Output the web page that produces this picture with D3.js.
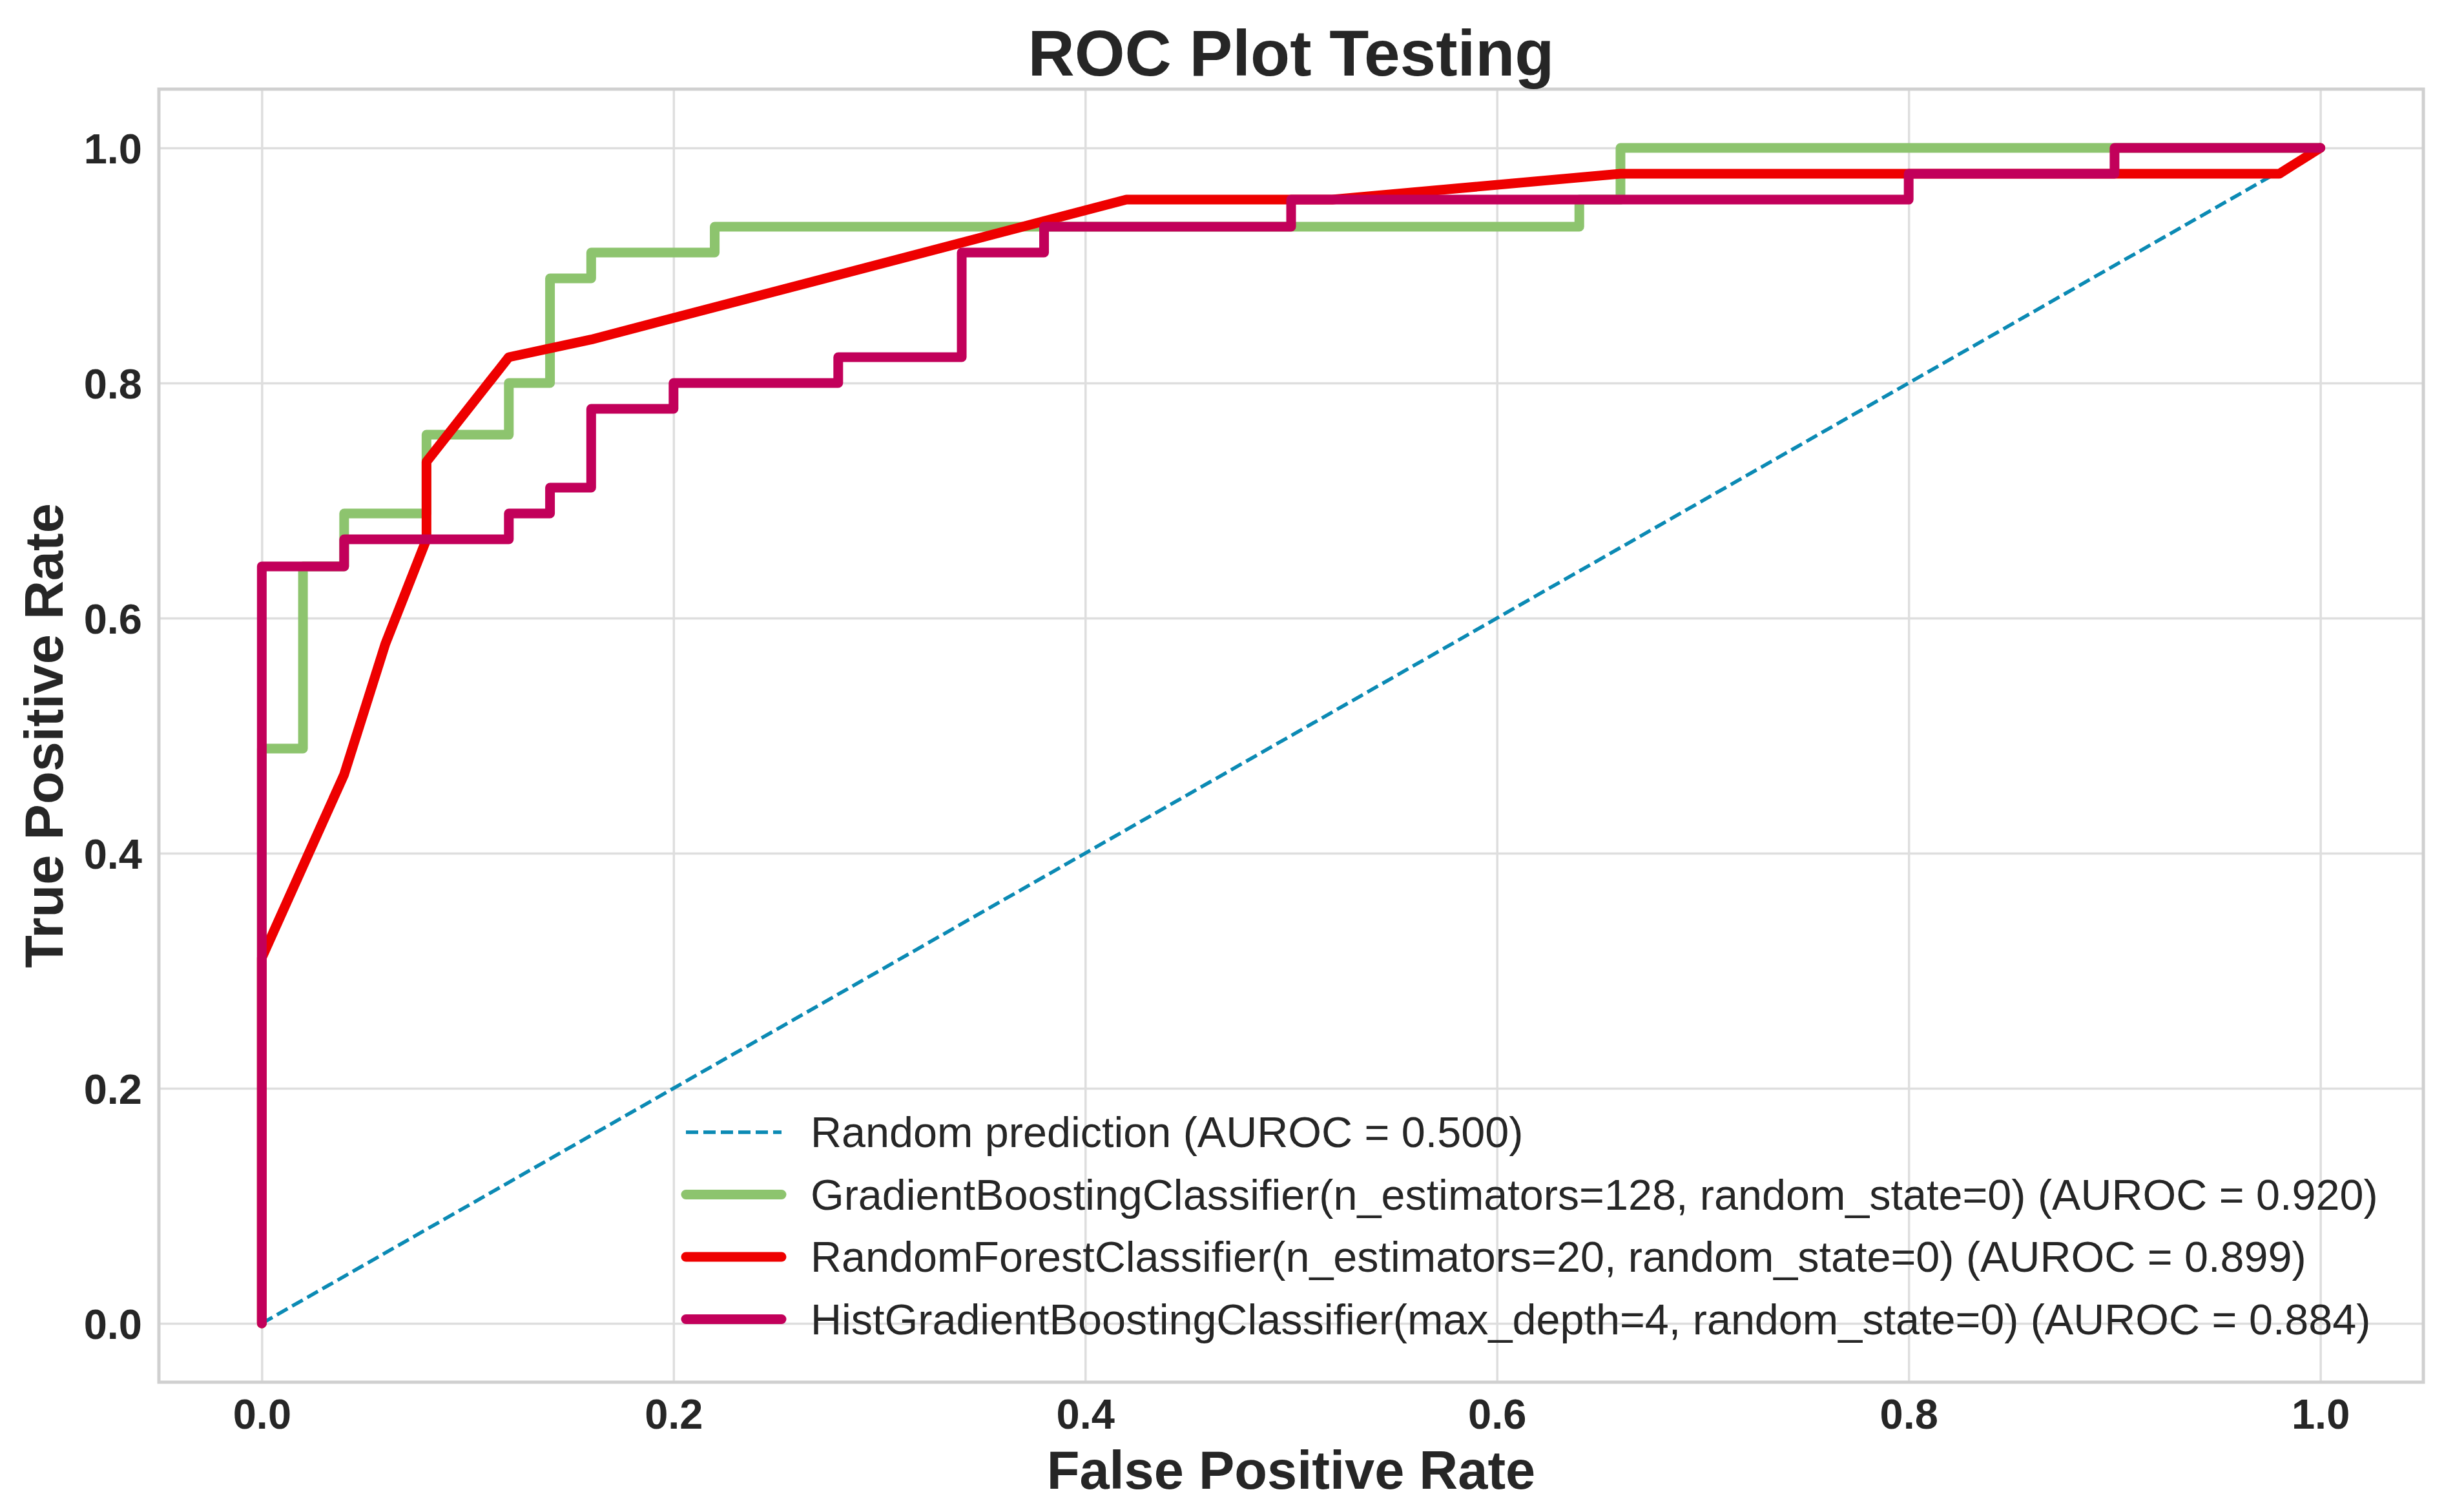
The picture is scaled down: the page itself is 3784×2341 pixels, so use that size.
<!DOCTYPE html>
<html>
<head>
<meta charset="utf-8">
<script src="https://cdn.jsdelivr.net/npm/d3@7"></script>
<style>
  body { margin: 0; background: #fff; }
  text { font-family: "Liberation Sans", Arial, sans-serif; fill: #262626; }
</style>
</head>
<body>
<svg id="chart" width="3784" height="2341"></svg>
<script>
// ROC points
var tickValues = [0, 0.2, 0.4, 0.6, 0.8, 1.0];

var fprRandom = [0, 1];
var tprRandom = [0, 1];

var fprGB = [0, 0, 0.02, 0.02, 0.04, 0.04, 0.08, 0.08, 0.12, 0.12, 0.14, 0.14, 0.16, 0.16, 0.22, 0.22, 0.64, 0.64, 0.66, 0.66, 1.0];
var tprGB = [0, 0.489, 0.489, 0.644, 0.644, 0.689, 0.689, 0.756, 0.756, 0.8, 0.8, 0.889, 0.889, 0.911, 0.911, 0.933, 0.933, 0.956, 0.956, 1.0, 1.0];

var fprRF = [0, 0, 0.04, 0.06, 0.08, 0.08, 0.12, 0.16, 0.42, 0.52, 0.66, 0.98, 1.0];
var tprRF = [0, 0.311, 0.467, 0.578, 0.667, 0.733, 0.822, 0.837, 0.956, 0.956, 0.978, 0.978, 1.0];

var fprHGB = [0, 0, 0.04, 0.04, 0.12, 0.12, 0.14, 0.14, 0.16, 0.16, 0.20, 0.20, 0.28, 0.28, 0.34, 0.34, 0.38, 0.38, 0.50, 0.50, 0.80, 0.80, 0.90, 0.90, 1.0];
var tprHGB = [0, 0.644, 0.644, 0.667, 0.667, 0.689, 0.689, 0.711, 0.711, 0.778, 0.778, 0.8, 0.8, 0.822, 0.822, 0.911, 0.911, 0.933, 0.933, 0.956, 0.956, 0.978, 0.978, 1.0, 1.0];

var seriesNames = [
  "Random prediction (AUROC = 0.500)",
  "GradientBoostingClassifier(n_estimators=128, random_state=0) (AUROC = 0.920)",
  "RandomForestClassifier(n_estimators=20, random_state=0) (AUROC = 0.899)",
  "HistGradientBoostingClassifier(max_depth=4, random_state=0) (AUROC = 0.884)"
];
var seriesColors = ["#0b8ab4", "#8dc46e", "#ee0000", "#c2005a"];

function drawChart(){
	var series = [
	  {name: seriesNames[0], color: seriesColors[0], x: fprRandom, y: tprRandom, dashed: true},
	  {name: seriesNames[1], color: seriesColors[1], x: fprGB, y: tprGB},
	  {name: seriesNames[2], color: seriesColors[2], x: fprRF, y: tprRF},
	  {name: seriesNames[3], color: seriesColors[3], x: fprHGB, y: tprHGB}
	];

	var pLeft = 246, pRight = 3752, pTop = 138, pBottom = 2140;
	var svg = d3.select('#chart');

	var x = d3.scaleLinear().domain([-0.05, 1.05]).range([pLeft, pRight]);
	var y = d3.scaleLinear().domain([-0.05, 1.05]).range([pBottom, pTop]);

	//Grid
	svg.append('g')
	    .attr('transform', 'translate(0,' + pBottom + ')')
	    .call(d3.axisBottom(x).tickValues(tickValues).tickSize(-(pBottom - pTop)).tickFormat(''))
	    .call(g => g.select('.domain').remove())
	    .selectAll('line')
	    .attr('stroke', '#dedede')
	    .attr('stroke-width', 3.5);

	svg.append('g')
	    .attr('transform', 'translate(' + pLeft + ',0)')
	    .call(d3.axisLeft(y).tickValues(tickValues).tickSize(-(pRight - pLeft)).tickFormat(''))
	    .call(g => g.select('.domain').remove())
	    .selectAll('line')
	    .attr('stroke', '#dedede')
	    .attr('stroke-width', 3.5);

	//Frame
	svg.append('rect')
	    .attr('x', pLeft).attr('y', pTop)
	    .attr('width', pRight - pLeft).attr('height', pBottom - pTop)
	    .attr('fill', 'none')
	    .attr('stroke', '#d0d0d0')
	    .attr('stroke-width', 5);

	//Tick labels
	var xAxis = svg.append('g')
	    .attr('transform', 'translate(0,' + pBottom + ')')
	    .call(d3.axisBottom(x).tickValues(tickValues).tickSize(0).tickFormat(d3.format('.1f')));
	xAxis.select('.domain').remove();
	xAxis.selectAll('text')
	    .attr('y', 72).attr('dy', 0)
	    .style('font-size', '65px')
	    .style('font-weight', 'bold')
	    .style('fill', '#262626')
	    .style('font-family', 'Liberation Sans');

	var yAxis = svg.append('g')
	    .attr('transform', 'translate(' + pLeft + ',0)')
	    .call(d3.axisLeft(y).tickValues(tickValues).tickSize(0).tickFormat(d3.format('.1f')));
	yAxis.select('.domain').remove();
	yAxis.selectAll('text')
	    .attr('x', -26).attr('dy', '0.36em')
	    .style('font-size', '65px')
	    .style('font-weight', 'bold')
	    .style('fill', '#262626')
	    .style('font-family', 'Liberation Sans');

	//Curves
	var line = d3.line()
	    .x(d => x(d[0]))
	    .y(d => y(d[1]));

	series.forEach(s => {
	  var pts = s.x.map((v, i) => [v, s.y[i]]);
	  svg.append('path')
	      .datum(pts)
	      .attr('d', line)
	      .attr('fill', 'none')
	      .attr('stroke', s.color)
	      .attr('stroke-width', s.dashed ? 5.5 : 15)
	      .attr('stroke-dasharray', s.dashed ? '19,8' : null)
	      .attr('stroke-linejoin', 'round')
	      .attr('stroke-linecap', s.dashed ? 'butt' : 'round');
	});

	//Legend
	var legend = svg.append('g').attr('transform', 'translate(1062,1753)');
	series.forEach((s, i) => {
	  var row = legend.append('g').attr('transform', 'translate(0,' + (i * 96.5) + ')');
	  row.append('line')
	      .attr('x1', 0).attr('x2', 148)
	      .attr('y1', 0).attr('y2', 0)
	      .attr('stroke', s.color)
	      .attr('stroke-width', s.dashed ? 5.5 : 15)
	      .attr('stroke-dasharray', s.dashed ? '19,8' : null)
	      .attr('stroke-linecap', s.dashed ? 'butt' : 'round');
	  row.append('text')
	      .attr('x', 193)
	      .attr('y', 23)
	      .style('font-size', '66.5px')
	      .text(s.name);
	});

	//Titles
	svg.append('text')
	    .attr('x', (pLeft + pRight) / 2)
	    .attr('y', 117)
	    .attr('text-anchor', 'middle')
	    .style('font-size', '100px')
	    .style('font-weight', 'bold')
	    .text('ROC Plot Testing');

	svg.append('text')
	    .attr('x', (pLeft + pRight) / 2)
	    .attr('y', 2305)
	    .attr('text-anchor', 'middle')
	    .style('font-size', '83px')
	    .style('font-weight', 'bold')
	    .text('False Positive Rate');

	svg.append('text')
	    .attr('transform', 'translate(97,' + ((pTop + pBottom) / 2) + ') rotate(-90)')
	    .attr('text-anchor', 'middle')
	    .style('font-size', '83px')
	    .style('font-weight', 'bold')
	    .text('True Positive Rate');
}

drawChart();
</script>
</body>
</html>
